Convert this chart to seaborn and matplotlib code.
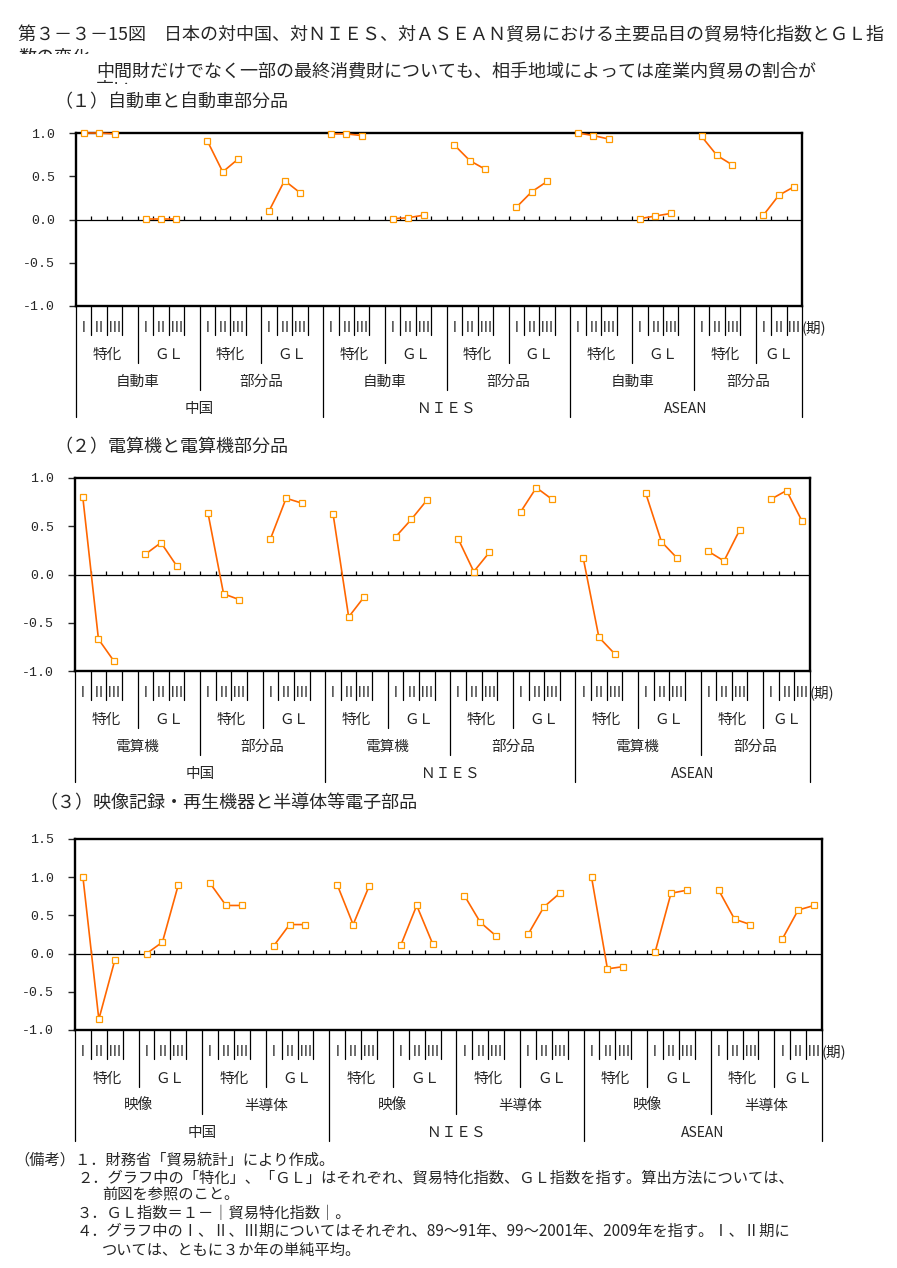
import numpy as np
import pandas as pd
import matplotlib
matplotlib.use("Agg")
import matplotlib.pyplot as plt
import matplotlib.transforms as mtransforms
from matplotlib.patches import Rectangle
from matplotlib.ticker import FormatStrFormatter
import seaborn as sns

# categories
periods = ["Ⅰ", "Ⅱ", "Ⅲ"]
regions = ["中国", "ＮＩＥＳ", "ASEAN"]
index_names = ["特化", "ＧＬ"]

# (1) autos: region -> product -> index, three periods each
auto_products = ["自動車", "部分品"]
auto_values = [
    [1.00, 1.00, 0.99], [0.01, 0.01, 0.01],
    [0.91, 0.55, 0.70], [0.10, 0.45, 0.31],
    [0.99, 0.99, 0.97], [0.01, 0.02, 0.05],
    [0.86, 0.68, 0.58], [0.14, 0.32, 0.44],
    [1.00, 0.97, 0.93], [0.01, 0.04, 0.07],
    [0.96, 0.74, 0.63], [0.05, 0.28, 0.38],
]

# (2) computers
pc_products = ["電算機", "部分品"]
pc_values = [
    [0.80, -0.67, -0.90], [0.21, 0.33, 0.09],
    [0.64, -0.20, -0.26], [0.37, 0.79, 0.74],
    [0.63, -0.44, -0.23], [0.39, 0.57, 0.77],
    [0.37, 0.03, 0.23], [0.65, 0.90, 0.78],
    [0.17, -0.65, -0.82], [0.84, 0.34, 0.17],
    [0.24, 0.14, 0.46], [0.78, 0.87, 0.55],
]

# (3) video / semiconductors
av_products = ["映像", "半導体"]
av_values = [
    [1.00, -0.86, -0.09], [0.00, 0.15, 0.90],
    [0.92, 0.63, 0.63], [0.10, 0.38, 0.38],
    [0.90, 0.38, 0.88], [0.11, 0.63, 0.13],
    [0.76, 0.41, 0.23], [0.25, 0.61, 0.79],
    [1.00, -0.20, -0.17], [0.02, 0.79, 0.83],
    [0.83, 0.45, 0.38], [0.19, 0.57, 0.63],
]

W, H = 897, 1268
n_slots = len(regions) * 2 * 2 * 4 - 1

sns.set_style("white")
plt.rcParams["font.family"] = ["Noto Sans CJK JP", "DejaVu Sans"]
plt.rcParams["axes.unicode_minus"] = False

fig = plt.figure(figsize=(W / 100, H / 100), dpi=100)


def ftext(x, y, s, **kw):
    kw.setdefault("va", "center")
    kw.setdefault("ha", "left")
    fig.text(x / W, 1 - y / H, s, **kw)


def cover(x0, y0, x1, y1):
    fig.add_artist(Rectangle((x0 / W, 1 - y1 / H), (x1 - x0) / W, (y1 - y0) / H,
                             transform=fig.transFigure, facecolor="white",
                             edgecolor="none", zorder=3.5))


def to_frame(values):
    rows = []
    for g, triple in enumerate(values):
        for p, v in enumerate(triple):
            rows.append({"slot": g * 4 + p, "value": v, "group": g})
    return pd.DataFrame(rows)


def draw_panel(left, top, right, bottom, products, values, ymin, ymax):
    ax = fig.add_axes([left / W, 1 - bottom / H, (right - left) / W, (bottom - top) / H])
    df = to_frame(values)
    sns.lineplot(data=df, x="slot", y="value", units="group", estimator=None,
                 color="#FF6600", linewidth=1.2, marker="s", markersize=4.6,
                 markerfacecolor="white", markeredgecolor="#FF9900",
                 markeredgewidth=0.9, legend=False, ax=ax, zorder=5, clip_on=False)
    ax.set_xlim(-0.5, n_slots - 0.5)
    ax.set_ylim(ymin, ymax)
    ax.set_xticks([])
    ax.set_yticks(np.arange(ymin, ymax + 0.01, 0.5))
    ax.yaxis.set_major_formatter(FormatStrFormatter("%.1f"))
    ax.tick_params(axis="y", left=True, direction="out", length=5, width=1,
                   pad=10, labelsize=9.5, labelfontfamily="Liberation Mono")
    ax.set_xlabel("")
    ax.set_ylabel("")
    for s in ax.spines.values():
        s.set_linewidth(1.7)
        s.set_color("black")
    ax.axhline(0, color="black", lw=0.9)

    h_px = bottom - top
    tick = 3.5 / h_px * (ymax - ymin)
    ax.vlines(np.arange(1, n_slots) - 0.5, 0, tick, color="black", lw=0.9)

    trans = mtransforms.blended_transform_factory(ax.transData, ax.transAxes)
    depths = [29, 57, 84, 111]
    label_y = [22, 49, 76, 103]
    for k in range(n_slots + 1):
        if k == 0 or k == n_slots or k % 16 == 0:
            d = depths[3]
        elif k % 8 == 0:
            d = depths[2]
        elif k % 4 == 0:
            d = depths[1]
        else:
            d = depths[0]
        ax.plot([k - 0.5, k - 0.5], [0, -d / h_px], transform=trans,
                color="black", lw=0.9, clip_on=False)

    for s in range(n_slots):
        if s % 4 < 3:
            ax.text(s, -label_y[0] / h_px, periods[s % 4], transform=trans,
                    ha="center", va="center", fontsize=10)
    ax.text(n_slots - 0.5, -label_y[0] / h_px, "(期)", transform=trans,
            ha="left", va="center", fontsize=10.5)

    levels = [(4, index_names), (8, products), (16, regions)]
    for row, (span, names) in enumerate(levels, start=1):
        for g in range(int(np.ceil(n_slots / span))):
            start = g * span
            end = min(start + span, n_slots)
            name = names[g % len(names)]
            ax.text((start + end) / 2 - 0.5, -label_y[row] / h_px, name,
                    transform=trans, ha="center", va="center",
                    fontsize=10 if name == "ASEAN" else 10.5)
    return ax


draw_panel(76, 133, 802, 306, auto_products, auto_values, -1.0, 1.0)
draw_panel(75, 478, 810, 671, pc_products, pc_values, -1.0, 1.0)
draw_panel(75, 839, 822, 1030, av_products, av_values, -1.0, 1.5)

# headings (second lines are cut off in the original as well)
ftext(18, 35, "第３－３－15図　日本の対中国、対ＮＩＥＳ、対ＡＳＥＡＮ貿易における主要品目の貿易特化指数とＧＬ指",
      fontsize=13, zorder=3)
ftext(18, 57, "数の変化", fontsize=13, zorder=3)
cover(10, 54, 200, 70)
ftext(96, 72, "中間財だけでなく一部の最終消費財についても、相手地域によっては産業内貿易の割合が",
      fontsize=13, zorder=4)
ftext(96, 90, "高い", fontsize=13, zorder=3)
cover(90, 84, 200, 100)
ftext(54, 102, "（１）自動車と自動車部分品", fontsize=13, zorder=4)
ftext(54, 447, "（２）電算機と電算機部分品", fontsize=13, zorder=4)
ftext(39, 803, "（３）映像記録・再生機器と半導体等電子部品", fontsize=13, zorder=4)

# notes
note_fs = 11
ftext(14, 1160, "（備考）１．財務省「貿易統計」により作成。", fontsize=note_fs, zorder=3)
ftext(77, 1178, "２．グラフ中の「特化」、「ＧＬ」はそれぞれ、貿易特化指数、ＧＬ指数を指す。算出方法については、",
      fontsize=note_fs, zorder=3)
ftext(102, 1195, "前図を参照のこと。", fontsize=note_fs, zorder=3)
ftext(77, 1213, "３．ＧＬ指数＝１－｜貿易特化指数｜。", fontsize=note_fs, zorder=3)
ftext(77, 1231, "４．グラフ中のⅠ、Ⅱ、Ⅲ期についてはそれぞれ、89～91年、99～2001年、2009年を指す。Ⅰ、Ⅱ期に",
      fontsize=note_fs, zorder=3)
ftext(102, 1250, "ついては、ともに３か年の単純平均。", fontsize=note_fs, zorder=3)
cover(0, 1256, W, H)

fig.savefig("out.png", dpi=100)
